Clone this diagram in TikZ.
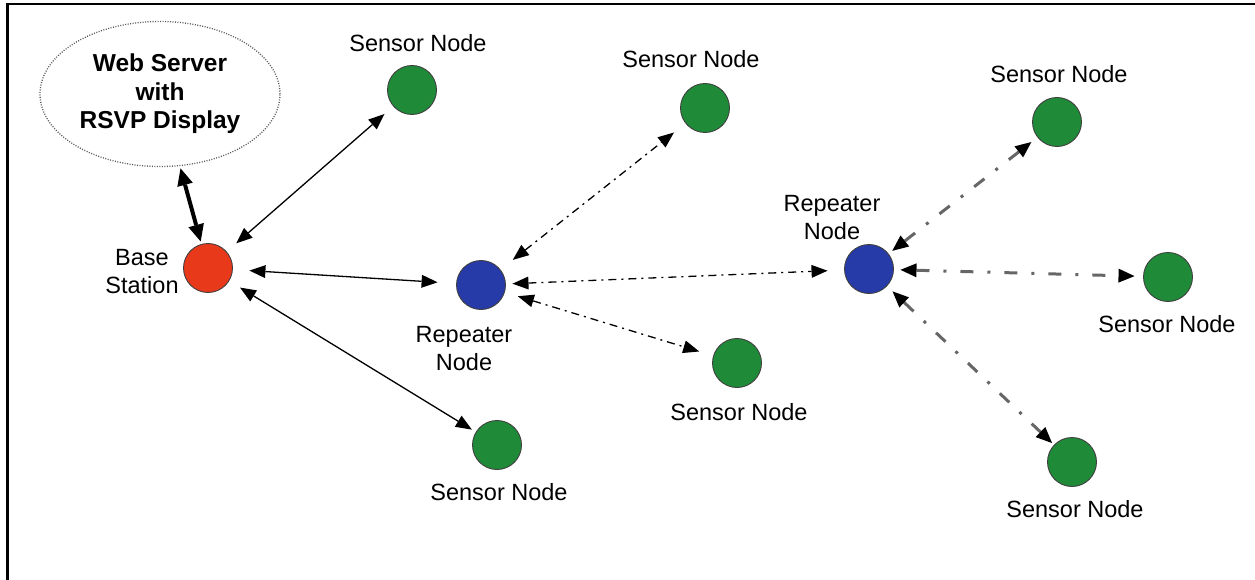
\documentclass[tikz,border=0pt]{standalone}
\usepackage{fontspec}
\setmainfont{Liberation Sans}
\usetikzlibrary{arrows.meta,shapes.geometric}
\definecolor{sgreen}{RGB}{31,138,56}
\definecolor{bred}{RGB}{232,57,27}
\definecolor{rblue}{RGB}{38,58,168}
\begin{document}
\begin{tikzpicture}[x=1pt,y=-1pt,
  every node/.style={inner sep=0pt, outer sep=0pt},
  lbl/.style={font=\fontsize{23.5}{28}\selectfont, anchor=base, align=center},
  dev/.style={circle, minimum size=49pt, draw=black!75, line width=0.9pt},
  sensor/.style={dev, fill=sgreen},
  repeater/.style={dev, fill=rblue},
  basest/.style={dev, fill=bred},
  >={Triangle[length=16pt,width=13pt,line width=0pt]},
  solidlink/.style={<->, line width=1.3pt},
  weblink/.style={{Triangle[length=17pt,width=16pt,line width=0pt]}-{Triangle[length=17pt,width=16pt,line width=0pt]}, line width=4pt},
  dotlink/.style={<->, line width=1.3pt, dash pattern=on 8pt off 5pt on 2pt off 5pt},
  farlink/.style={{Triangle[length=16pt,width=14pt,line width=0pt,color=black]}-{Triangle[length=16pt,width=14pt,line width=0pt,color=black]}, draw=black!60, line width=3pt, dash pattern=on 13pt off 14pt on 3pt off 14pt}
]
\useasboundingbox (0,0) rectangle (1255,580);
\draw[line width=2.5pt] (7.5,580) -- (7.5,4) -- (1255,4);

\node[ellipse, draw=black!65, dash pattern=on 1pt off 1.5pt, line width=1.3pt,
  minimum width=240pt, minimum height=145pt,
  font=\bfseries\fontsize{24.5}{28.5}\selectfont, align=center] (web) at (160,94)
  {Web Server\\with\\RSVP Display};

\node[basest] (base) at (208,268) {};
\node[sensor] (s1) at (412,90) {};
\node[sensor] (s2) at (705,108) {};
\node[repeater] (rep1) at (481,285) {};
\node[sensor] (s3) at (737,363) {};
\node[sensor] (s4) at (497,445) {};
\node[repeater] (rep2) at (869,269) {};
\node[sensor] (s5) at (1057,122) {};
\node[sensor] (s6) at (1168,277) {};
\node[sensor] (s7) at (1072,462) {};

\node[lbl] (l1) at (418,52) {Sensor Node};
\node[lbl] (l2) at (691,68) {Sensor Node};
\node[lbl] (l3) at (739,420) {Sensor Node};
\node[lbl] (l4) at (499,500) {Sensor Node};
\node[lbl] (l5) at (1059,83) {Sensor Node};
\node[lbl] (l6) at (1167,332) {Sensor Node};
\node[lbl] (l7) at (1075,517) {Sensor Node};
\node[lbl] (lbase) at (142,293) {Base\\Station};
\node[lbl] (lrep1) at (464,370) {Repeater\\Node};
\node[lbl] (lrep2) at (832,239) {Repeater\\Node};

\draw[weblink, shorten <=3pt, shorten >=3pt] (web) -- (base);
\draw[solidlink, shorten <=13pt, shorten >=12pt] (base) -- (s1);
\draw[solidlink, shorten <=17pt, shorten >=19pt] (base) -- (rep1);
\draw[solidlink, shorten <=13pt, shorten >=5pt] (base) -- (s4);
\draw[dotlink, shorten <=16pt, shorten >=15pt] (rep1) -- (s2);
\draw[dotlink, shorten <=7pt, shorten >=17pt] (rep1) -- (rep2);
\draw[dotlink, shorten <=14pt, shorten >=15pt] (rep1) -- (s3);
\draw[farlink, shorten <=5pt, shorten >=8pt] (rep2) -- (s5);
\draw[farlink, shorten <=7pt, shorten >=9pt] (rep2) -- (s6);
\draw[farlink, shorten <=8pt, shorten >=3pt] (rep2) -- (s7);
\end{tikzpicture}
\end{document}
